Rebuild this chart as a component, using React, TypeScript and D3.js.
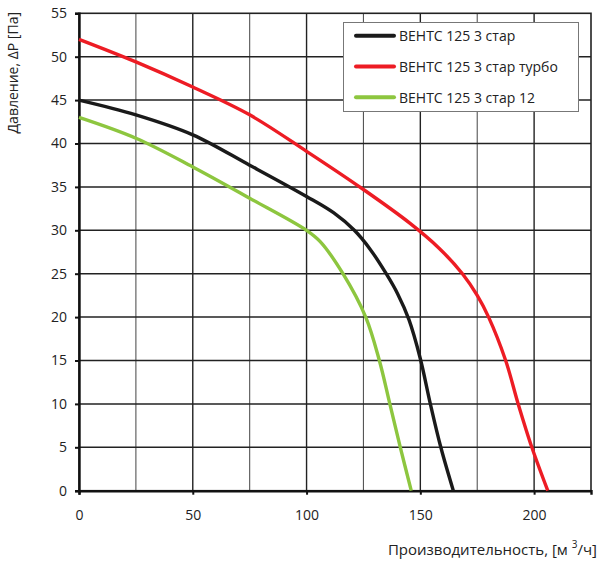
import * as d3 from "d3"
import React, { useEffect, useRef } from "react"

// flow [m3/h], pressure [Pa]
const standardCurve: [number, number][] = [
    [0, 45], [25, 43.3], [50, 41.0], [75, 37.5], [100, 33.9],
    [112, 32.0], [121, 30], [128, 27.8], [135, 25], [140, 22.7], [145, 19.7],
    [150, 15.2], [154.4, 10], [159, 5], [164.5, 0]
]
const turboCurve: [number, number][] = [
    [0, 52], [25, 49.4], [50, 46.5], [75, 43.3], [100, 39.1], [125, 34.7],
    [145.5, 30.8], [158, 28], [168.5, 25], [175, 22.5], [180, 20], [187.5, 15],
    [193, 10], [199, 5], [206, 0]
]
const curve12: [number, number][] = [
    [0, 43], [25, 40.6], [50, 37.3], [75, 33.7], [100, 30], [106, 28.7],
    [116, 25], [126, 20], [132, 15], [136.6, 10], [141.2, 5], [146, 0]
]

const seriesNames = ["ВЕНТС 125 3 стар", "ВЕНТС 125 3 стар турбо", "ВЕНТС 125 3 стар 12"]
const seriesColors = ["#1a1a1a", "#ed1c24", "#8dc63f"]
const seriesData = [standardCurve, turboCurve, curve12]

const xTicks = [0, 50, 100, 150, 200]
const xGrid = [25, 50, 75, 100, 125, 150, 175, 200]
const yTicks = [0, 5, 10, 15, 20, 25, 30, 35, 40, 45, 50, 55]

const font = "'Open Sans', 'Noto Sans', sans-serif"

const App = () => {
    const svgRef = useRef<SVGSVGElement>(null)

    useEffect(() => {
        document.body.style.margin = "0"
        const width = 600
        const height = 569

        const svg = d3.select(svgRef.current)
            .attr("width", width)
            .attr("height", height)
            .style("display", "block")
            .style("background", "#fff")

        svg.selectAll("*").remove()

        const x = d3.scaleLinear().domain([0, 225]).range([79, 591])
        const y = d3.scaleLinear().domain([0, 55]).range([490.7, 13.3])

        // grid
        svg.append("g")
            .selectAll("line")
            .data(xGrid)
            .join("line")
            .attr("x1", d => x(d)).attr("x2", d => x(d))
            .attr("y1", y(0)).attr("y2", y(55))
            .attr("stroke", d => d % 50 === 0 ? "#222" : "#555")
            .attr("stroke-width", d => d % 50 === 0 ? 1.4 : 1.1)

        svg.append("g")
            .selectAll("line")
            .data(yTicks.slice(1, -1))
            .join("line")
            .attr("x1", x(0)).attr("x2", x(225))
            .attr("y1", d => y(d)).attr("y2", d => y(d))
            .attr("stroke", "#222")
            .attr("stroke-width", 1.5)

        // frame
        svg.append("rect")
            .attr("x", x(0)).attr("y", y(55))
            .attr("width", x(225) - x(0)).attr("height", y(0) - y(55))
            .attr("fill", "none")
            .attr("stroke", "#222")
            .attr("stroke-width", 1.6)

        // axes
        const xAxis = svg.append("g")
            .attr("transform", `translate(0, ${y(0)})`)
            .call(d3.axisBottom(x).tickValues(xTicks).tickSize(4).tickPadding(15))
        const yAxis = svg.append("g")
            .attr("transform", `translate(${x(0)}, 0)`)
            .call(d3.axisLeft(y).tickValues(yTicks).tickSize(4).tickPadding(8))

        for (const ax of [xAxis, yAxis]) {
            ax.select(".domain").attr("stroke", "#111").attr("stroke-width", 2.4)
            ax.selectAll(".tick line").attr("stroke", "#111").attr("stroke-width", 2)
            ax.selectAll(".tick text")
                .attr("fill", "#222")
                .style("font-family", font)
                .style("font-size", "14px")
        }

        // curves
        const line = d3.line<[number, number]>()
            .x(d => x(d[0]))
            .y(d => y(d[1]))
            .curve(d3.curveCatmullRom.alpha(0.5))

        svg.append("g")
            .selectAll("path")
            .data(seriesData)
            .join("path")
            .attr("d", d => line(d))
            .attr("fill", "none")
            .attr("stroke", (_, i) => seriesColors[i])
            .attr("stroke-width", 3.4)
            .attr("stroke-linejoin", "round")

        // legend
        const legend = svg.append("g")
        legend.append("rect")
            .attr("x", 343.5).attr("y", 22.5)
            .attr("width", 235).attr("height", 89)
            .attr("fill", "#fff")
            .attr("stroke", "#777")
            .attr("stroke-width", 1)

        seriesNames.forEach((name, i) => {
            const ly = 35.7 + i * 30.8
            legend.append("line")
                .attr("x1", 356).attr("x2", 394)
                .attr("y1", ly).attr("y2", ly)
                .attr("stroke", seriesColors[i])
                .attr("stroke-width", 4)
                .attr("stroke-linecap", "round")
            legend.append("text")
                .attr("x", 399).attr("y", ly + 5.5)
                .attr("fill", "#222")
                .style("font-family", font)
                .style("font-size", "14px")
                .text(name)
        })

        // axis titles
        svg.append("text")
            .attr("transform", "translate(18, 12) rotate(-90)")
            .attr("text-anchor", "end")
            .attr("fill", "#222")
            .style("font-family", font)
            .style("font-size", "14px")
            .text("Давление, ΔP [Па]")

        const xt = svg.append("text")
            .attr("x", 597).attr("y", 555)
            .attr("text-anchor", "end")
            .attr("fill", "#222")
            .style("font-family", font)
            .style("font-size", "15px")
        xt.append("tspan").text("Производительность, [м ")
        xt.append("tspan").attr("dy", -7).style("font-size", "10px").text("3")
        xt.append("tspan").attr("dy", 7).text("/ч]")
    }, [])

    return <svg ref={svgRef}></svg>
}

export default App
